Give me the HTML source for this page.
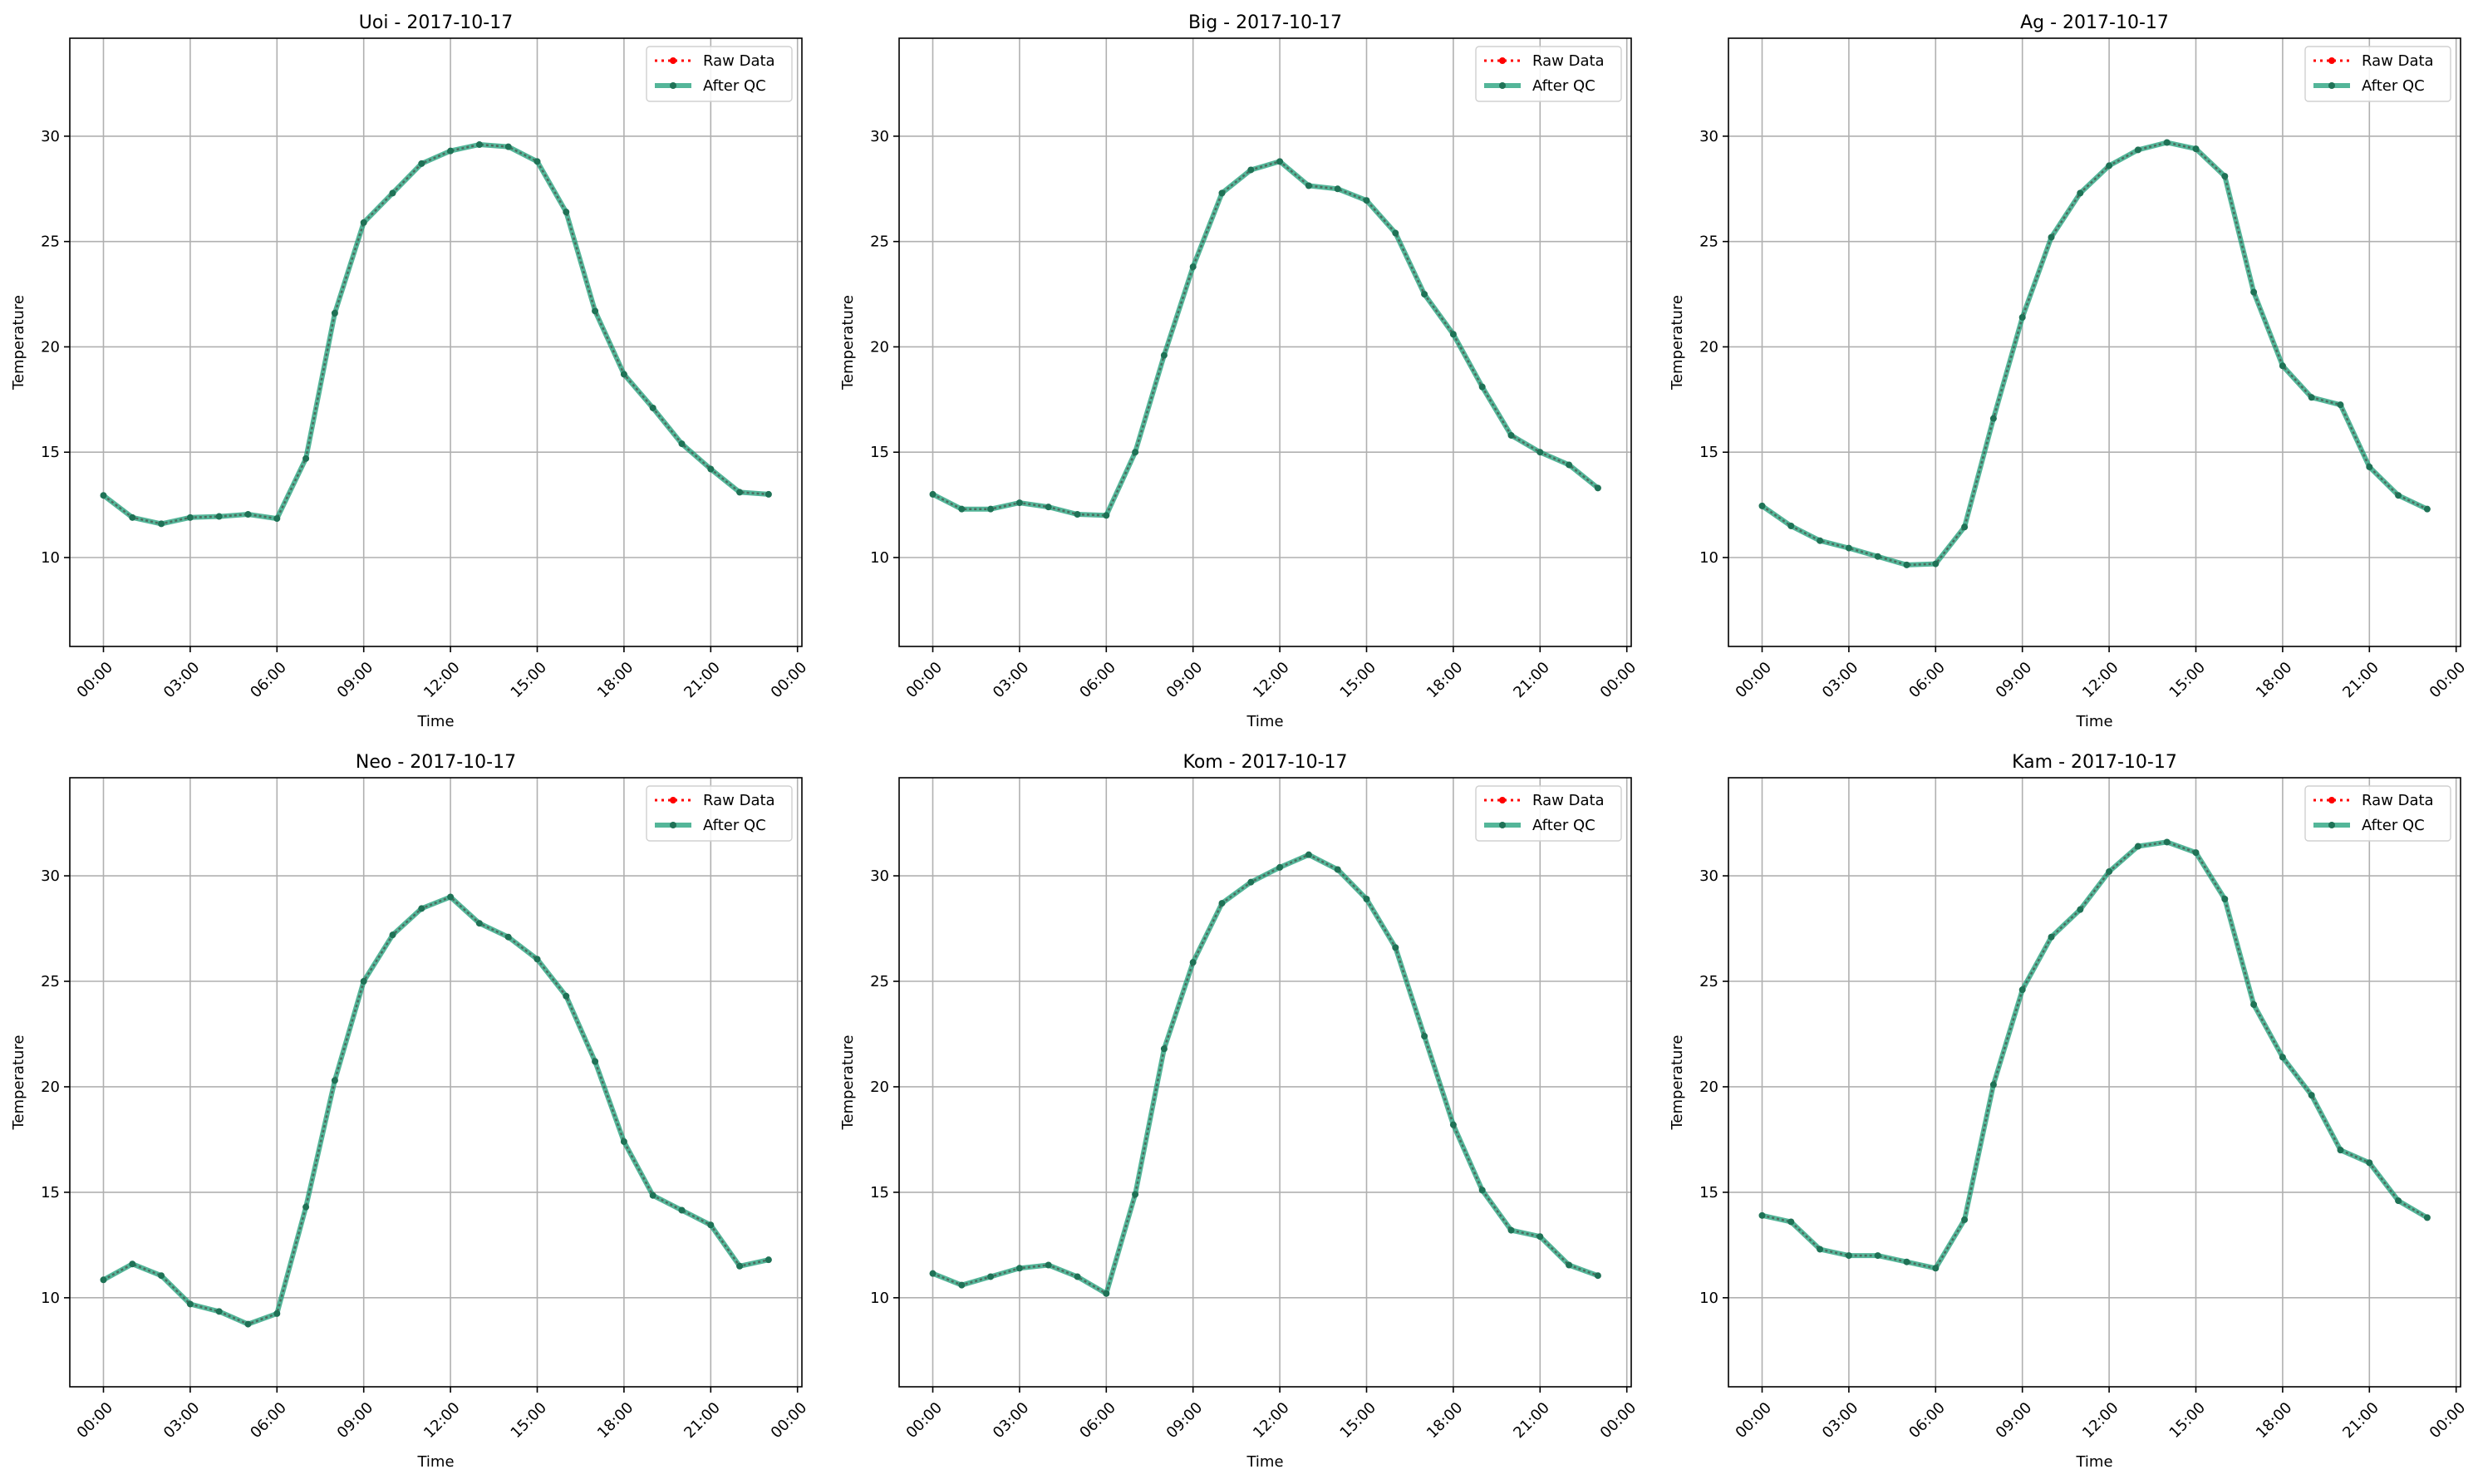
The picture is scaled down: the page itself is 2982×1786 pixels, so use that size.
<!DOCTYPE html>
<html><head><meta charset="utf-8"><style>
body{margin:0;background:#fff;font-family:"Liberation Sans","DejaVu Sans",sans-serif}
svg text{font-family:"DejaVu Sans","Liberation Sans",sans-serif;fill:#000}
</style></head><body>
<svg id="fig" width="2982" height="1781" viewBox="0 0 2982 1781" xmlns="http://www.w3.org/2000/svg"></svg>
<script>
const stations = ["Uoi","Big","Ag","Neo","Kom","Kam"];
const dateLabel = "2017-10-17";
const hours = [0,1,2,3,4,5,6,7,8,9,10,11,12,13,14,15,16,17,18,19,20,21,22,23];
const tempUoi = [12.95,11.9,11.6,11.9,11.95,12.05,11.85,14.7,21.6,25.9,27.3,28.7,29.3,29.6,29.5,28.8,26.4,21.7,18.7,17.1,15.4,14.2,13.1,13.0];
const tempBig = [13.0,12.3,12.3,12.6,12.4,12.05,12.0,15.0,19.6,23.8,27.3,28.4,28.8,27.65,27.5,26.95,25.4,22.5,20.6,18.1,15.8,15.0,14.4,13.3];
const tempAg = [12.45,11.5,10.8,10.45,10.05,9.65,9.7,11.45,16.6,21.4,25.2,27.3,28.6,29.35,29.7,29.4,28.1,22.6,19.1,17.6,17.25,14.3,12.95,12.3];
const tempNeo = [10.85,11.6,11.05,9.7,9.35,8.75,9.25,14.3,20.3,25.0,27.2,28.45,29.0,27.75,27.1,26.05,24.3,21.2,17.4,14.85,14.15,13.45,11.5,11.8];
const tempKom = [11.15,10.6,11.0,11.4,11.55,11.0,10.2,14.9,21.8,25.9,28.7,29.7,30.4,31.0,30.3,28.9,26.6,22.4,18.2,15.1,13.2,12.9,11.55,11.05];
const tempKam = [13.9,13.6,12.3,12.0,12.0,11.7,11.4,13.7,20.1,24.6,27.1,28.4,30.2,31.4,31.6,31.1,28.9,23.9,21.4,19.6,17.0,16.4,14.6,13.8];
const yTicks = [10,15,20,25,30];
const xTickHours = [0,3,6,9,12,15,18,21,24];
const xTickLabels = ["00:00","03:00","06:00","09:00","12:00","15:00","18:00","21:00","00:00"];
const series = [tempUoi,tempBig,tempAg,tempNeo,tempKom,tempKam];
const yMin = 5.78, yMax = 34.65;

const NS="http://www.w3.org/2000/svg";
const fig=document.getElementById('fig');
function mk(tag,attrs,parent){const e=document.createElementNS(NS,tag);for(const k in attrs)e.setAttribute(k,attrs[k]);parent.appendChild(e);return e;}

series.forEach((vals,i)=>{
  const col=i%3,row=Math.floor(i/3);
  const L=84+col*998,R=965+col*998;
  const T=row?936:46,B=row?1669:778;
  const X0=L+40.5, pxH=34.8;
  const xs=h=>X0+h*pxH;
  const ys=v=>B-(v-yMin)/(yMax-yMin)*(B-T);
  const g=mk('g',{},fig);
  
  
  xTickHours.forEach((h,k)=>{
    const x=xs(h);
    if(x<R){const gl=mk('line',{x1:x,x2:x,y1:T,y2:B,stroke:'#b0b0b0','stroke-width':1.6},g);
      }
    mk('line',{x1:x,x2:x,y1:B,y2:B+7,stroke:'#000','stroke-width':1.6},g);
    const t=mk('text',{x:x+12,y:B+26,'font-size':18,'text-anchor':'end',transform:`rotate(-45 ${x+12} ${B+26})`},g);
    t.textContent=xTickLabels[k];
    
  });
  yTicks.forEach(v=>{
    const y=ys(v);
    const gl=mk('line',{x1:L,x2:R,y1:y,y2:y,stroke:'#b0b0b0','stroke-width':1.6},g);
    
    mk('line',{x1:L-7,x2:L,y1:y,y2:y,stroke:'#000','stroke-width':1.6},g);
    const t=mk('text',{x:L-12,y:y+6,'font-size':18,'text-anchor':'end'},g);
    t.textContent=v;
    
  });
  const pts=vals.map((v,k)=>xs(hours[k]).toFixed(1)+','+ys(v).toFixed(1)).join(' ');
  const qc=mk('polyline',{points:pts,fill:'none',stroke:'#1b9e77','stroke-opacity':0.75,'stroke-width':6,'stroke-linejoin':'round'},g);
  
  const raw=mk('polyline',{points:pts,fill:'none',stroke:'#4a5a50','stroke-width':2.5,'stroke-dasharray':'3 3','stroke-opacity':0.8},g);
  
  vals.forEach((v,k)=>{
    const c=mk('circle',{cx:xs(hours[k]),cy:ys(v),r:4,fill:'#1f7256'},g);
    
  });
  const fr=mk('rect',{x:L,y:T,width:R-L,height:B-T,fill:'none',stroke:'#000','stroke-width':1.6},g);
  
  const tt=mk('text',{x:(L+R)/2,y:T-12,'font-size':22,'text-anchor':'middle'},g);
  tt.textContent=stations[i]+' - '+dateLabel;
  
  const xl=mk('text',{x:(L+R)/2,y:B+96,'font-size':18,'text-anchor':'middle'},g);
  xl.textContent='Time';
  
  const yl=mk('text',{x:L-56,y:(T+B)/2,'font-size':18,'text-anchor':'middle',transform:`rotate(-90 ${L-56} ${(T+B)/2})`},g);
  yl.textContent='Temperature';
  
  const lg=mk('g',{},g);
  
  const lx=R-187,ly=T+10;
  mk('rect',{x:lx,y:ly,width:175,height:66,rx:4,fill:'#fff','fill-opacity':0.85,stroke:'#d0d0d0','stroke-width':1.4},lg);
  mk('line',{x1:lx+10,x2:lx+54,y1:ly+17,y2:ly+17,stroke:'#ff0000','stroke-width':3,'stroke-dasharray':'3 5'},lg);
  mk('circle',{cx:lx+32,cy:ly+17,r:4,fill:'#ff0000'},lg);
  const t1=mk('text',{x:lx+68,y:ly+23,'font-size':18},lg);t1.textContent='Raw Data';
  
  mk('line',{x1:lx+10,x2:lx+54,y1:ly+47,y2:ly+47,stroke:'#1b9e77','stroke-opacity':0.75,'stroke-width':6},lg);
  mk('circle',{cx:lx+32,cy:ly+47,r:4,fill:'#1f7256'},lg);
  const t2=mk('text',{x:lx+68,y:ly+53,'font-size':18},lg);t2.textContent='After QC';
  
});
</script>
</body></html>
